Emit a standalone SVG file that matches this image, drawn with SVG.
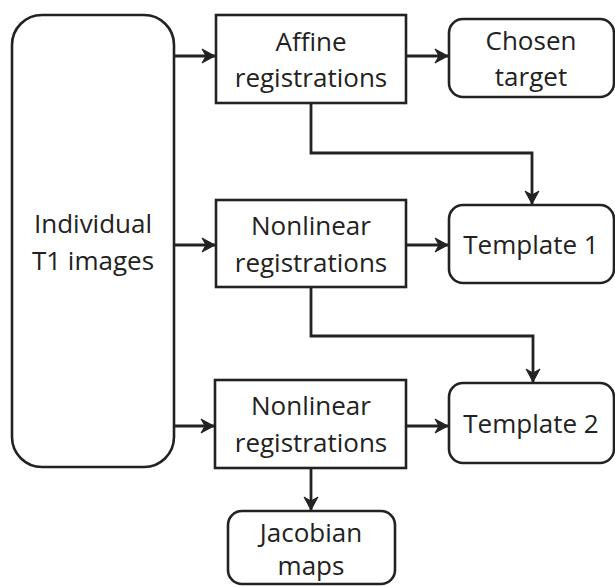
<svg xmlns="http://www.w3.org/2000/svg" width="615" height="586" viewBox="0 0 615 586">
<style>
.box{fill:#fff;stroke:#222;stroke-width:2.6}
.t{font-family:"Open Sans","Noto Sans",sans-serif;font-size:26px;fill:#222;text-anchor:middle}
.c{fill:none;stroke:#222;stroke-width:2.8}
</style>
<defs>
<marker id="ah" markerUnits="userSpaceOnUse" markerWidth="16" markerHeight="16" viewBox="-14 -8 16 16" refX="0" refY="0" orient="auto">
<path d="M0,0 L-13,-7 L-9,0 L-13,7 Z" fill="#222" stroke="#222" stroke-width="1" stroke-linejoin="round"/>
</marker>
</defs>
<rect width="615" height="586" fill="#fff"/>
<g id="connectors">
<line class="c" x1="174" y1="56" x2="215" y2="56" marker-end="url(#ah)"/>
<line class="c" x1="406" y1="56" x2="448" y2="56" marker-end="url(#ah)"/>
<path class="c" d="M311,103 V153 H532 V204" marker-end="url(#ah)"/>
<line class="c" x1="174" y1="245" x2="215" y2="245" marker-end="url(#ah)"/>
<line class="c" x1="406" y1="245" x2="448" y2="245" marker-end="url(#ah)"/>
<path class="c" d="M311,287 V336 H533 V382" marker-end="url(#ah)"/>
<line class="c" x1="174" y1="426" x2="214" y2="426" marker-end="url(#ah)"/>
<line class="c" x1="406" y1="426" x2="448" y2="426" marker-end="url(#ah)"/>
<line class="c" x1="311" y1="468" x2="311" y2="510" marker-end="url(#ah)"/>
</g>
<g id="individual">
<rect class="box" x="12" y="15" width="162" height="452" rx="30"/>
<text class="t" x="93" y="233">Individual</text>
<text class="t" x="93" y="270">T1 images</text>
</g>
<g id="affine">
<rect class="box" x="216" y="15" width="190" height="88"/>
<text class="t" x="311" y="51">Affine</text>
<text class="t" x="311" y="87">registrations</text>
</g>
<g id="chosen">
<rect class="box" x="449" y="19" width="165" height="78" rx="14"/>
<text class="t" x="531" y="50">Chosen</text>
<text class="t" x="531" y="86">target</text>
</g>
<g id="nonlinear1">
<rect class="box" x="216" y="200" width="190" height="87"/>
<text class="t" x="311" y="235">Nonlinear</text>
<text class="t" x="311" y="272">registrations</text>
</g>
<g id="template1">
<rect class="box" x="449" y="205" width="165" height="78" rx="14"/>
<text class="t" x="531" y="254">Template 1</text>
</g>
<g id="nonlinear2">
<rect class="box" x="215" y="380" width="191" height="88"/>
<text class="t" x="311" y="415">Nonlinear</text>
<text class="t" x="311" y="452">registrations</text>
</g>
<g id="template2">
<rect class="box" x="449" y="383" width="165" height="80" rx="14"/>
<text class="t" x="531" y="433">Template 2</text>
</g>
<g id="jacobian">
<rect class="box" x="228" y="511" width="167" height="73" rx="14"/>
<text class="t" x="311" y="542">Jacobian</text>
<text class="t" x="311" y="575">maps</text>
</g>
</svg>
